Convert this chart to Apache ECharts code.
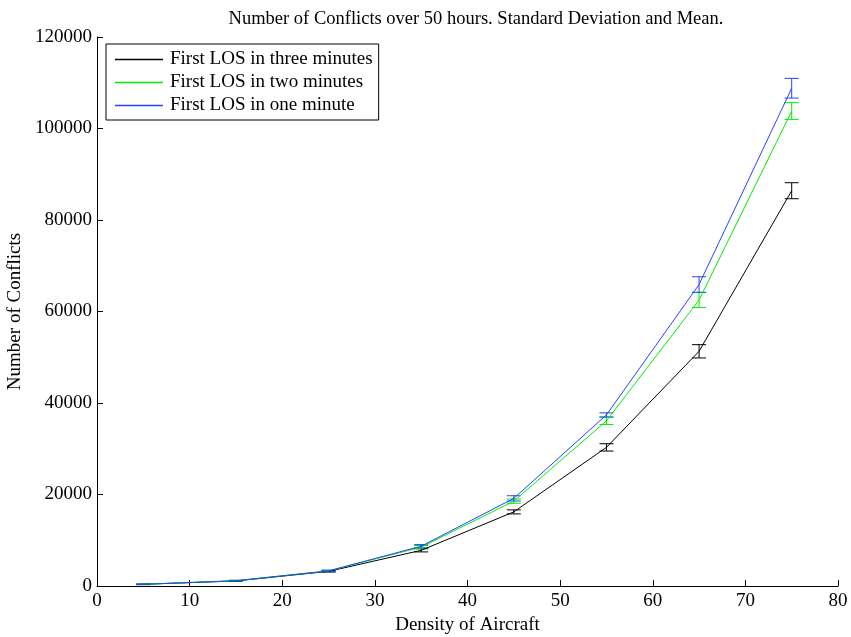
<!DOCTYPE html>
<html>
<head>
<meta charset="utf-8">
<script src="https://cdn.jsdelivr.net/npm/echarts@6/dist/echarts.min.js"></script>
<style>
  html, body { margin: 0; padding: 0; background: #fff; }
  #chart { width: 851px; height: 637px; }
</style>
</head>
<body>
<div id="chart"></div>
<script>
// Aircraft density values (x) and conflict counts (mean and standard deviation)
const density = [5, 15, 25, 35, 45, 55, 65, 75];

const threeMinMean = [370, 1100, 3200, 7800, 16200, 30300, 51300, 86400];
const threeMinSd   = [60, 90, 150, 350, 440, 800, 1450, 1750];

const twoMinMean = [370, 1150, 3300, 8500, 18550, 36100, 62500, 103800];
const twoMinSd   = [60, 90, 150, 350, 470, 800, 1650, 1850];

const oneMinMean = [370, 1160, 3300, 8700, 19150, 37400, 65900, 108800];
const oneMinSd   = [60, 90, 150, 350, 580, 450, 1700, 2150];

const seriesNames = ['First LOS in three minutes', 'First LOS in two minutes', 'First LOS in one minute'];
const seriesColors = ['#000000', '#00ee00', '#2244ff'];

const xTicks = { min: 0, max: 80, interval: 10 };
const yTicks = { min: 0, max: 120000, interval: 20000 };

const FONT = '"Liberation Serif", "DejaVu Serif", serif';

function pairs(xs, ys) { return xs.map((x, i) => [x, ys[i]]); }

function errorSeries(name, color, means, sds) {
  return {
    name: name,
    type: 'custom',
    z: 3,
    silent: true,
    data: density.map((x, i) => [x, means[i] - sds[i], means[i] + sds[i]]),
    renderItem: function (params, api) {
      const x = api.value(0);
      const lo = api.coord([x, api.value(1)]);
      const hi = api.coord([x, api.value(2)]);
      const hw = 7;
      const style = { stroke: color, lineWidth: 1, fill: null };
      return {
        type: 'group',
        children: [
          { type: 'line', shape: { x1: lo[0], y1: lo[1], x2: hi[0], y2: hi[1] }, style: style },
          { type: 'line', shape: { x1: lo[0] - hw, y1: lo[1], x2: lo[0] + hw, y2: lo[1] }, style: style },
          { type: 'line', shape: { x1: hi[0] - hw, y1: hi[1], x2: hi[0] + hw, y2: hi[1] }, style: style }
        ]
      };
    }
  };
}

function lineSeries(name, color, means) {
  return {
    name: name,
    type: 'line',
    data: pairs(density, means),
    showSymbol: false,
    symbol: 'none',
    lineStyle: { color: color, width: 1 },
    itemStyle: { color: color },
    z: 4,
    silent: true
  };
}

const chart = echarts.init(document.getElementById('chart'), null, { renderer: 'canvas' });

chart.setOption({
  animation: false,
  backgroundColor: '#ffffff',
  title: {
    text: 'Number of Conflicts over 50 hours. Standard Deviation and Mean.',
    left: 471,
    textAlign: 'center',
    top: 5,
    textStyle: { fontFamily: FONT, fontSize: 18.5, fontWeight: 'normal', color: '#000' }
  },
  legend: {
    left: 106,
    top: 44,
    orient: 'vertical',
    data: seriesNames,
    icon: 'rect',
    itemWidth: 48,
    itemHeight: 1.5,
    itemGap: 4,
    padding: [6, 6, 5, 9],
    borderColor: '#000',
    borderWidth: 1,
    backgroundColor: '#fff',
    textStyle: { fontFamily: FONT, fontSize: 19, color: '#000', padding: [0, 0, 0, 2] }
  },
  grid: { left: 97, right: 13, top: 37, bottom: 51, containLabel: false, outerBoundsMode: 'none' },
  xAxis: {
    type: 'value',
    min: xTicks.min,
    max: xTicks.max,
    interval: xTicks.interval,
    name: 'Density of Aircraft',
    nameLocation: 'middle',
    nameGap: 29,
    nameTextStyle: { fontFamily: FONT, fontSize: 19, color: '#000' },
    axisLine: { show: true, lineStyle: { color: '#000', width: 1 } },
    axisTick: { show: true, inside: true, length: 6, lineStyle: { color: '#000' } },
    axisLabel: { fontFamily: FONT, fontSize: 19, color: '#000', margin: 6 },
    splitLine: { show: false }
  },
  yAxis: {
    type: 'value',
    min: yTicks.min,
    max: yTicks.max,
    interval: yTicks.interval,
    name: 'Number of Conflicts',
    nameLocation: 'middle',
    nameGap: 65,
    nameTextStyle: { fontFamily: FONT, fontSize: 19, color: '#000' },
    axisLine: { show: true, lineStyle: { color: '#000', width: 1 } },
    axisTick: { show: true, inside: true, length: 6, lineStyle: { color: '#000' } },
    axisLabel: { fontFamily: FONT, fontSize: 19, color: '#000', margin: 5, formatter: v => String(v) },
    splitLine: { show: false }
  },
  series: [
    lineSeries(seriesNames[0], seriesColors[0], threeMinMean),
    lineSeries(seriesNames[1], seriesColors[1], twoMinMean),
    lineSeries(seriesNames[2], seriesColors[2], oneMinMean),
    errorSeries(seriesNames[0], seriesColors[0], threeMinMean, threeMinSd),
    errorSeries(seriesNames[1], seriesColors[1], twoMinMean, twoMinSd),
    errorSeries(seriesNames[2], seriesColors[2], oneMinMean, oneMinSd)
  ]
});
</script>
</body>
</html>
